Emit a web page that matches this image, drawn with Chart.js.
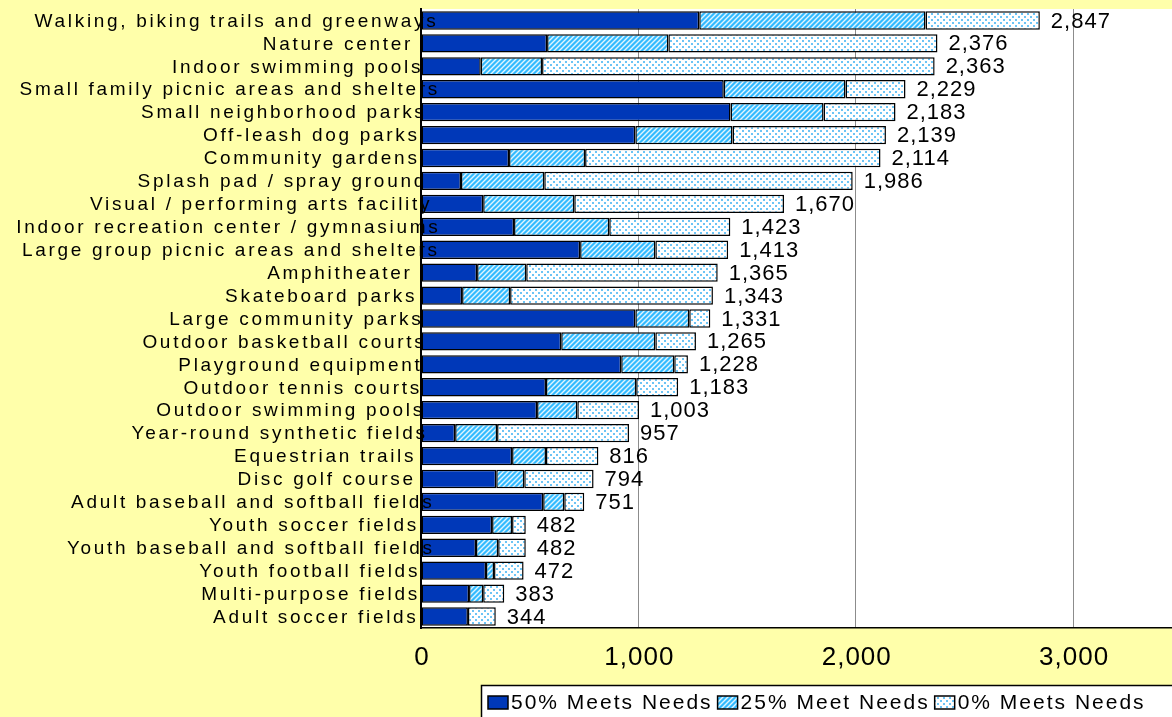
<!DOCTYPE html>
<html>
<head>
<meta charset="utf-8">
<script src="https://cdn.jsdelivr.net/npm/chart.js@4.4.1/dist/chart.umd.min.js"></script>
<style>
  html, body { margin: 0; padding: 0; background: #FFFFAA; }
  #wrap { width: 1172px; height: 717px; overflow: hidden; }
</style>
</head>
<body>
<div id="wrap"><canvas id="needsChart" width="1172" height="717"></canvas></div>
<script>
// categories (top to bottom)
const categories = [
  'Walking, biking trails and greenways', 'Nature center', 'Indoor swimming pools',
  'Small family picnic areas and shelters', 'Small neighborhood parks', 'Off-leash dog parks',
  'Community gardens', 'Splash pad / spray ground', 'Visual / performing arts facility',
  'Indoor recreation center / gymnasiums', 'Large group picnic areas and shelters', 'Amphitheater',
  'Skateboard parks', 'Large community parks', 'Outdoor basketball courts',
  'Playground equipment', 'Outdoor tennis courts', 'Outdoor swimming pools',
  'Year-round synthetic fields', 'Equestrian trails', 'Disc golf course',
  'Adult baseball and softball fields', 'Youth soccer fields', 'Youth baseball and softball fields',
  'Youth football fields', 'Multi-purpose fields', 'Adult soccer fields'
];

// series values
const meets50 = [1280, 580, 275, 1393, 1424, 986, 405, 184, 286, 428, 732, 258, 189, 986, 645, 921, 575, 534, 157, 419, 346, 562, 327, 253, 299, 221, 216];
const meets25 = [1041, 558, 282, 560, 428, 447, 350, 383, 419, 438, 346, 226, 221, 248, 433, 244, 415, 185, 193, 156, 129, 97, 92, 102, 37, 65, 0];
const meets0  = [526, 1238, 1806, 276, 331, 706, 1359, 1419, 965, 557, 335, 881, 933, 97, 187, 63, 193, 284, 607, 241, 319, 92, 63, 127, 136, 97, 128];
const totals  = [2847, 2376, 2363, 2229, 2183, 2139, 2114, 1986, 1670, 1423, 1413, 1365, 1343, 1331, 1265, 1228, 1183, 1003, 957, 816, 794, 751, 482, 482, 472, 383, 344];

const seriesLabels = ['50% Meets Needs', '25% Meet Needs', '0% Meets Needs'];
const tickValues = [0, 1000, 2000, 3000];
const axisMax = 3455;

const canvas = document.getElementById('needsChart');
const ctx = canvas.getContext('2d');

// hatch pattern for the 25% series
function makeHatch() {
    const c = document.createElement('canvas');
    c.width = 5; c.height = 5;
    const x = c.getContext('2d');
    x.fillStyle = '#33BBFF';
    x.fillRect(0, 0, 5, 5);
    x.strokeStyle = 'rgba(255,255,255,0.85)';
    x.lineWidth = 1.4;
    x.beginPath();
    x.moveTo(0, 5); x.lineTo(5, 0);
    x.moveTo(-1, 1); x.lineTo(1, -1);
    x.moveTo(4, 6); x.lineTo(6, 4);
    x.stroke();
    return ctx.createPattern(c, 'repeat');
}

// dotted pattern for the 0% series
function makeDots() {
    const c = document.createElement('canvas');
    c.width = 6; c.height = 6;
    const x = c.getContext('2d');
    x.fillStyle = '#FFFFFF';
    x.fillRect(0, 0, 6, 6);
    x.fillStyle = '#6CC4F5';
    x.fillRect(1, 1, 2, 2);
    x.fillRect(4, 4, 2, 2);
    return ctx.createPattern(c, 'repeat');
}

const fills = ['#0038B8', makeHatch(), makeDots()];
const FONT = '"Liberation Sans", Arial, sans-serif';

// white plot area on the yellow page
const plotBackground = {
    id: 'plotBackground',
    beforeDraw(chart) {
        const { ctx, chartArea: a } = chart;
        ctx.save();
        ctx.fillStyle = '#FFFFAA';
        ctx.fillRect(0, 0, chart.width, chart.height);
        ctx.fillStyle = '#FFFFFF';
        ctx.fillRect(a.left, a.top, a.right - a.left, a.bottom - a.top);
        ctx.restore();
    }
};

// category labels, tick labels, totals and the legend box
const textLayer = {
    id: 'textLayer',
    afterDraw(chart) {
        const { ctx, scales } = chart;
        const xs = scales.x, ys = scales.y;
        ctx.save();
        ctx.fillStyle = '#000';
        ctx.textBaseline = 'middle';

        // category labels (they spill a little over the axis like the original)
        ctx.font = '19px ' + FONT;
        ctx.letterSpacing = '2.7px';
        ctx.textAlign = 'right';
        categories.forEach((cat, i) => {
            const w = ctx.measureText(cat).width;
            ctx.fillText(cat, 398 + 0.1 * w, ys.getPixelForValue(i) + 1);
        });

        // totals at the end of each bar
        ctx.textAlign = 'left';
        ctx.font = '22px ' + FONT;
        ctx.letterSpacing = '1px';
        totals.forEach((t, i) => {
            ctx.fillText(t.toLocaleString('en-US'), xs.getPixelForValue(t) + 11, ys.getPixelForValue(i) + 1);
        });

        // x tick labels
        ctx.font = '26px ' + FONT;
        ctx.letterSpacing = '1px';
        ctx.textAlign = 'center';
        tickValues.forEach(v => {
            ctx.fillText(v.toLocaleString('en-US'), xs.getPixelForValue(v) + 1, 658);
        });

        // legend
        const lx = 481, ly = 685;
        ctx.fillStyle = '#FFFFFF';
        ctx.fillRect(lx, ly, chart.width - lx + 2, chart.height - ly + 2);
        ctx.strokeStyle = '#000';
        ctx.lineWidth = 1.5;
        ctx.strokeRect(lx + 0.5, ly + 0.5, chart.width - lx + 4, chart.height - ly + 4);
        ctx.font = '21px ' + FONT;
        ctx.letterSpacing = '2px';
        ctx.textAlign = 'left';
        let cx = lx + 7;
        const cy = ly + 17;
        seriesLabels.forEach((lab, i) => {
            ctx.fillStyle = fills[i];
            ctx.fillRect(cx, cy - 6, 20, 13);
            ctx.strokeStyle = '#000';
            ctx.lineWidth = 1.5;
            ctx.strokeRect(cx, cy - 6, 20, 13);
            cx += 23;
            ctx.fillStyle = '#000';
            ctx.fillText(lab, cx, cy + 1);
            cx += ctx.measureText(lab).width + 5;
        });
        ctx.restore();
    }
};

const datasets = [meets50, meets25, meets0].map((vals, i) => ({
    label: seriesLabels[i],
    data: vals,
    backgroundColor: fills[i],
    borderColor: '#000000',
    borderWidth: 1.5,
    borderSkipped: false,
    barPercentage: 0.8,
    categoryPercentage: 1.0
}));

new Chart(ctx, {
    type: 'bar',
    data: { labels: categories, datasets: datasets },
    options: {
        indexAxis: 'y',
        responsive: false,
        animation: false,
        layout: { padding: { top: 9, right: 0, bottom: 32, left: 0 } },
        plugins: {
            legend: { display: false },
            tooltip: { enabled: false }
        },
        scales: {
            x: {
                stacked: true,
                min: 0,
                max: axisMax,
                afterBuildTicks: (scale) => { scale.ticks = tickValues.map(v => ({ value: v })); },
                afterFit: (scale) => { scale.height = 57; },
                ticks: { display: false },
                grid: {
                    drawTicks: false,
                    color: (c) => (c.tick && c.tick.value === 0) ? 'rgba(0,0,0,0)' : '#8C8C8C',
                    lineWidth: 1
                },
                border: { display: true, color: '#000', width: 1.5 }
            },
            y: {
                stacked: true,
                afterFit: (scale) => { scale.width = 421; },
                ticks: { display: false },
                grid: { display: false, drawTicks: false },
                border: { display: true, color: '#000', width: 2 }
            }
        }
    },
    plugins: [plotBackground, textLayer]
});
</script>
</body>
</html>
